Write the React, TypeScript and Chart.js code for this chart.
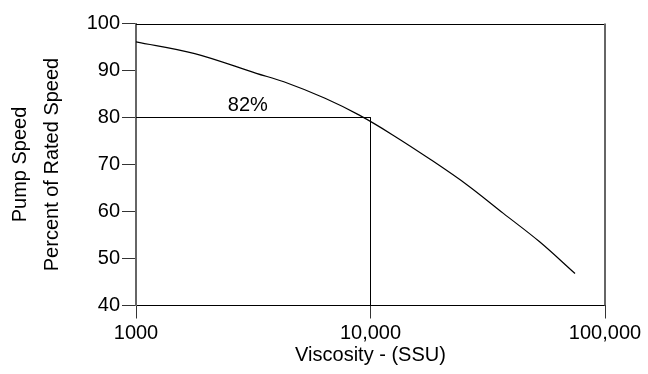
import React, { useEffect, useRef } from "react";
import { Chart, registerables } from "chart.js";

Chart.register(...registerables);

// ---- data ----
const viscosity = [1000, 1780, 3260, 4270, 6400, 8960, 12430, 18240, 25930, 36870, 52480, 74500];
const speedPct = [96.1, 93.6, 89.4, 87.6, 84.1, 80.5, 76.3, 70.9, 65.6, 59.6, 53.6, 46.8];
const refX = [1000, 10000, 10000];
const refY = [80, 80, 40];
const xTickValues = [1000, 10000, 100000];
const xTickLabels = ["1000", "10,000", "100,000"];
const yTickValues = [40, 50, 60, 70, 80, 90, 100];
const yTickLabels = ["40", "50", "60", "70", "80", "90", "100"];
const xTitle = "Viscosity - (SSU)";
const yTitle = ["Pump Speed", "Percent of Rated Speed"];
const annotationText = "82%";
const annotationX = 3000;
const annotationY = 82.6;

const FONT = "'Liberation Sans', Arial, Helvetica, sans-serif";

const framePlugin = {
  id: "frame",
  afterDatasetsDraw(chart: any) {
    const { ctx, chartArea } = chart;
    ctx.save();
    ctx.strokeStyle = "#000";
    ctx.lineWidth = 1;
    ctx.beginPath();
    ctx.moveTo(chartArea.left, Math.round(chartArea.top) + 0.5);
    ctx.lineTo(chartArea.right, Math.round(chartArea.top) + 0.5);
    ctx.stroke();
    ctx.strokeStyle = "#666";
    ctx.lineWidth = 2;
    ctx.beginPath();
    ctx.moveTo(Math.round(chartArea.right), chartArea.top);
    ctx.lineTo(Math.round(chartArea.right), chartArea.bottom);
    ctx.stroke();
    ctx.restore();
  },
};

const annotationPlugin = {
  id: "annot",
  afterDatasetsDraw(chart: any) {
    const { ctx, scales } = chart;
    const x = scales.x.getPixelForValue(annotationX);
    const y = scales.y.getPixelForValue(annotationY);
    ctx.save();
    ctx.fillStyle = "#000";
    ctx.font = `20px ${FONT}`;
    ctx.textAlign = "center";
    ctx.textBaseline = "middle";
    ctx.fillText(annotationText, x, y);
    ctx.restore();
  },
};

export default function App() {
  const ref = useRef<HTMLCanvasElement | null>(null);

  useEffect(() => {
    document.body.style.margin = "0";
    const canvas = ref.current;
    if (!canvas) return;
    Chart.defaults.font.family = FONT;
    const chart = new Chart(canvas, {
      type: "scatter",
      data: {
        datasets: [
          {
            data: viscosity.map((v, i) => ({ x: v, y: speedPct[i] })),
            showLine: true,
            borderColor: "#000",
            borderWidth: 1.2,
            pointRadius: 0,
            tension: 0.35,
          },
          {
            data: refX.map((v, i) => ({ x: v, y: refY[i] })),
            showLine: true,
            borderColor: "#000",
            borderWidth: 1,
            pointRadius: 0,
            tension: 0,
          },
        ],
      },
      options: {
        responsive: false,
        devicePixelRatio: 1,
        animation: false,
        events: [],
        layout: { padding: { left: 0, top: 23.5, right: 43, bottom: 0 } },
        plugins: {
          legend: { display: false },
          tooltip: { enabled: false },
        },
        scales: {
          x: {
            type: "logarithmic",
            min: 1000,
            max: 100000,
            afterBuildTicks: (scale: any) => {
              scale.ticks = xTickValues.map((v) => ({ value: v }));
            },
            afterFit: (scale: any) => {
              scale.height = 68.5;
            },
            ticks: {
              color: "#000",
              font: { size: 20 },
              padding: 3,
              autoSkip: false,
              maxRotation: 0,
              callback: (value: any) => {
                const i = xTickValues.indexOf(Number(value));
                return i >= 0 ? xTickLabels[i] : "";
              },
            },
            grid: {
              drawOnChartArea: false,
              drawTicks: true,
              tickLength: 13,
              color: "#333",
              lineWidth: 1,
            },
            border: { display: true, color: "#000", width: 1 },
            title: {
              display: true,
              text: xTitle,
              color: "#000",
              font: { size: 20 },
              padding: { top: 0, bottom: 7 },
            },
          },
          y: {
            type: "linear",
            min: 40,
            max: 100,
            afterBuildTicks: (scale: any) => {
              scale.ticks = yTickValues.map((v) => ({ value: v }));
            },
            afterFit: (scale: any) => {
              scale.width = 136;
            },
            ticks: {
              color: "#000",
              font: { size: 20 },
              padding: 2,
              callback: (value: any) => {
                const i = yTickValues.indexOf(Number(value));
                return i >= 0 ? yTickLabels[i] : "";
              },
            },
            grid: {
              drawOnChartArea: false,
              drawTicks: true,
              tickLength: 14,
              color: "#333",
              lineWidth: 1,
            },
            border: { display: true, color: "#666", width: 2 },
            title: {
              display: true,
              text: yTitle,
              color: "#000",
              font: { size: 20, lineHeight: 1.6 },
              padding: { top: 4, bottom: 0 },
            },
          },
        },
      },
      plugins: [framePlugin, annotationPlugin],
    } as any);
    return () => chart.destroy();
  }, []);

  return (
    <div style={{ width: 648, height: 374, background: "#fff" }}>
      <canvas ref={ref} width={648} height={374} style={{ display: "block" }} />
    </div>
  );
}
